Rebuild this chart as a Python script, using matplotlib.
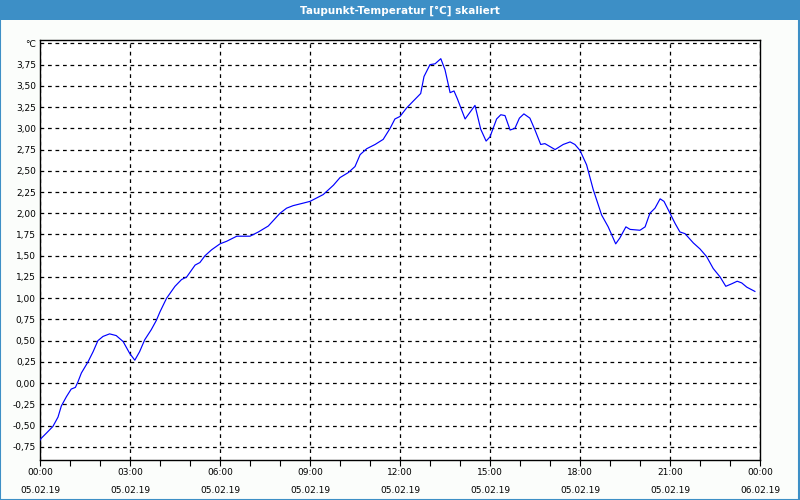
import matplotlib
matplotlib.use("Agg")
import matplotlib.pyplot as plt
from matplotlib.patches import Rectangle

title = "Taupunkt-Temperatur [°C] skaliert"
hours = [0, 0.04, 0.21, 0.43, 0.6, 0.71, 0.88, 1.04, 1.18, 1.27, 1.38, 1.6, 1.77, 1.93, 2.1, 2.32,
         2.54, 2.77, 2.99, 3.16, 3.32, 3.49, 3.71, 3.88,
         4.0, 4.22, 4.5, 4.72, 4.89, 5.17, 5.33, 5.5, 5.72, 6.0, 6.22, 6.56, 7.0, 7.28, 7.61, 8.0,
         8.22, 8.44, 8.78, 9.0, 9.22, 9.44, 9.78, 10.0, 10.28, 10.5, 10.67, 10.89, 11.17, 11.44,
         11.67, 11.83, 12.0,
         12.22, 12.44, 12.69, 12.8, 13.0, 13.17, 13.36, 13.5, 13.67, 13.8, 13.91, 14.17, 14.5,
         14.69, 14.87, 15.0, 15.22, 15.36, 15.5, 15.67, 15.83, 15.98, 16.13, 16.33, 16.5, 16.69,
         16.83, 17.17, 17.44, 17.67, 17.83, 18.0, 18.22, 18.44, 18.72, 18.94, 19.19, 19.33,
         19.53, 19.67, 20.0, 20.17, 20.33, 20.5, 20.67, 20.8, 21.0, 21.17, 21.33, 21.5, 21.78,
         22.0, 22.22, 22.44, 22.67, 22.86, 23.06, 23.24, 23.39, 23.56, 23.83]
values = [-0.67, -0.65, -0.59, -0.51, -0.40, -0.27, -0.16, -0.07, -0.05, 0.02, 0.12, 0.25, 0.37,
          0.50, 0.55, 0.58, 0.56, 0.49, 0.35, 0.27, 0.37, 0.51, 0.63, 0.74,
          0.84, 1.00, 1.14, 1.22, 1.25, 1.39, 1.42, 1.50, 1.57, 1.64, 1.67, 1.73, 1.73, 1.78, 1.85, 2.00,
          2.06, 2.09, 2.12, 2.14, 2.18, 2.22, 2.33, 2.42, 2.48, 2.55, 2.69, 2.76, 2.81, 2.87,
          3.00, 3.11, 3.14,
          3.24, 3.32, 3.41, 3.61, 3.75, 3.76, 3.82, 3.69, 3.42, 3.44, 3.35, 3.11, 3.27,
          2.99, 2.85, 2.90, 3.11, 3.16, 3.15, 2.98, 3.00, 3.12, 3.17, 3.12, 2.98, 2.81,
          2.82, 2.75, 2.81, 2.84, 2.81, 2.74, 2.57, 2.28, 1.98, 1.84, 1.64, 1.71,
          1.84, 1.81, 1.80, 1.84, 2.00, 2.06, 2.17, 2.14, 2.00, 1.88, 1.78, 1.76, 1.65,
          1.58, 1.49, 1.35, 1.25, 1.14, 1.17, 1.20, 1.18, 1.13, 1.08]
time_labels = ["00:00", "03:00", "06:00", "09:00", "12:00", "15:00", "18:00", "21:00", "00:00"]
date_labels = ["05.02.19"] * 8 + ["06.02.19"]
ytick_vals = [-0.75, -0.5, -0.25, 0, 0.25, 0.5, 0.75, 1.0, 1.25, 1.5, 1.75, 2.0, 2.25, 2.5,
              2.75, 3.0, 3.25, 3.5, 3.75, 4.0]
unit = "°C"

plt.rcParams['font.family'] = ['DejaVu Sans']
fig = plt.figure(figsize=(8, 5), dpi=100, facecolor="#fbfdfb")
blue = "#3d8fc6"
fig.patches.append(Rectangle((0, 0.96), 1, 0.04, transform=fig.transFigure,
                             facecolor=blue, edgecolor="none", zorder=0))
fig.patches.append(Rectangle((0.0006, 0.001), 0.9982, 0.998, transform=fig.transFigure,
                             facecolor="none", edgecolor=blue, linewidth=1.5, zorder=5))
fig.text(0.5, 0.979, title, color="white", ha="center", va="center", fontsize=7.5,
         fontweight="bold")

ax = fig.add_axes([0.05, 0.08, 0.9, 0.84])
ax.set_facecolor("white")
ax.plot(hours, values, color="#0000ff", linewidth=0.85, zorder=3)
ax.set_xlim(0, 24)
ax.set_ylim(-0.905, 4.04)

ax.set_yticks(ytick_vals)
ylabels = [f"{v:.2f}".replace(".", ",") for v in ytick_vals]
ylabels[-1] = unit
ax.set_yticklabels(ylabels, fontsize=6.5)
ax.tick_params(axis="y", length=0, pad=3)

ax.set_xticks(range(0, 25, 3))
ax.set_xticklabels([f"{t}\n\n{d}" for t, d in zip(time_labels, date_labels)],
                   fontsize=6.5, linespacing=1.0)
ax.set_xticks(range(0, 25), minor=True)
ax.tick_params(axis="x", which="both", direction="out", length=4, width=0.8, pad=1.5)

ax.grid(True, which="major", color="black", linestyle=(0, (3, 3)), linewidth=0.9)
for s in ax.spines.values():
    s.set_linewidth(1.0)

fig.savefig("out.png", dpi=100, facecolor=fig.get_facecolor())
